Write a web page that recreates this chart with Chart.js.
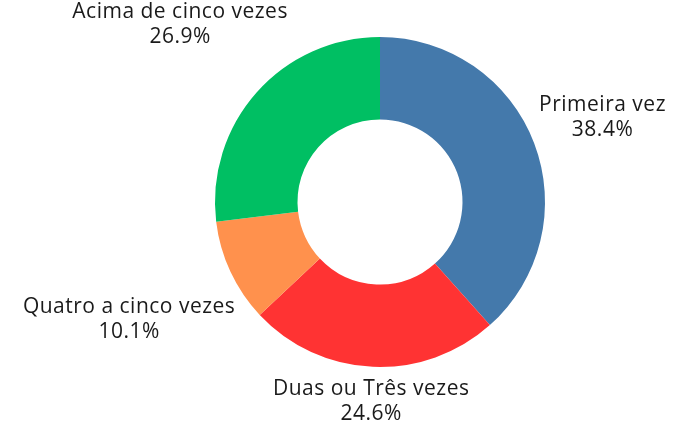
<!DOCTYPE html>
<html>
<head>
<meta charset="utf-8">
<script src="https://cdn.jsdelivr.net/npm/chart.js@4/dist/chart.umd.min.js"></script>
<style>
  html, body { margin: 0; padding: 0; background: #fff; }
  #wrap { width: 682px; height: 421px; position: relative; }
</style>
</head>
<body>
<div id="wrap"><canvas id="chart"></canvas></div>
<script>
const categories = ['Primeira vez', 'Duas ou Três vezes', 'Quatro a cinco vezes', 'Acima de cinco vezes'];
const shares = [38.4, 24.6, 10.1, 26.9];
const sliceColors = ['#4479AB', '#FF3333', '#FF914D', '#00BF63'];

// outside labels: name + percentage, pushed out along each slice's mid angle
const outsideLabels = {
    id: 'outsideLabels',
    afterDatasetsDraw(chart) {
        const ctx = chart.ctx;
        const meta = chart.getDatasetMeta(0);
        const lineH = 25;
        ctx.save();
        ctx.font = '21px "Open Sans", sans-serif';
        ctx.letterSpacing = '0.5px';
        ctx.fillStyle = '#1a1a1a';
        ctx.textAlign = 'center';
        ctx.textBaseline = 'middle';
        meta.data.forEach((arc, i) => {
            const p = arc.getProps(['x', 'y', 'startAngle', 'endAngle', 'outerRadius'], true);
            const mid = (p.startAngle + p.endAngle) / 2;
            const lines = [categories[i], shares[i].toFixed(1) + '%'];
            const w = Math.max(...lines.map(t => ctx.measureText(t).width));
            const hw = w / 2, hh = lineH * lines.length / 2;
            const c = Math.cos(mid), s = Math.sin(mid);
            const r = p.outerRadius + 5 + hw * Math.abs(c) + hh * Math.abs(s);
            const cx = p.x + r * c, cy = p.y + r * s;
            lines.forEach((t, k) => {
                ctx.fillText(t, cx, cy - hh + lineH * (k + 0.5));
            });
        });
        ctx.restore();
    }
};

new Chart(document.getElementById('chart'), {
    type: 'doughnut',
    data: {
        labels: categories,
        datasets: [{
            data: shares,
            backgroundColor: sliceColors,
            borderWidth: 0
        }]
    },
    options: {
        responsive: true,
        maintainAspectRatio: false,
        animation: false,
        cutout: '50%',
        layout: { padding: { top: 37, bottom: 54, left: 100, right: 22 } },
        plugins: {
            legend: { display: false },
            tooltip: { enabled: false }
        }
    },
    plugins: [outsideLabels]
});
</script>
</body>
</html>
